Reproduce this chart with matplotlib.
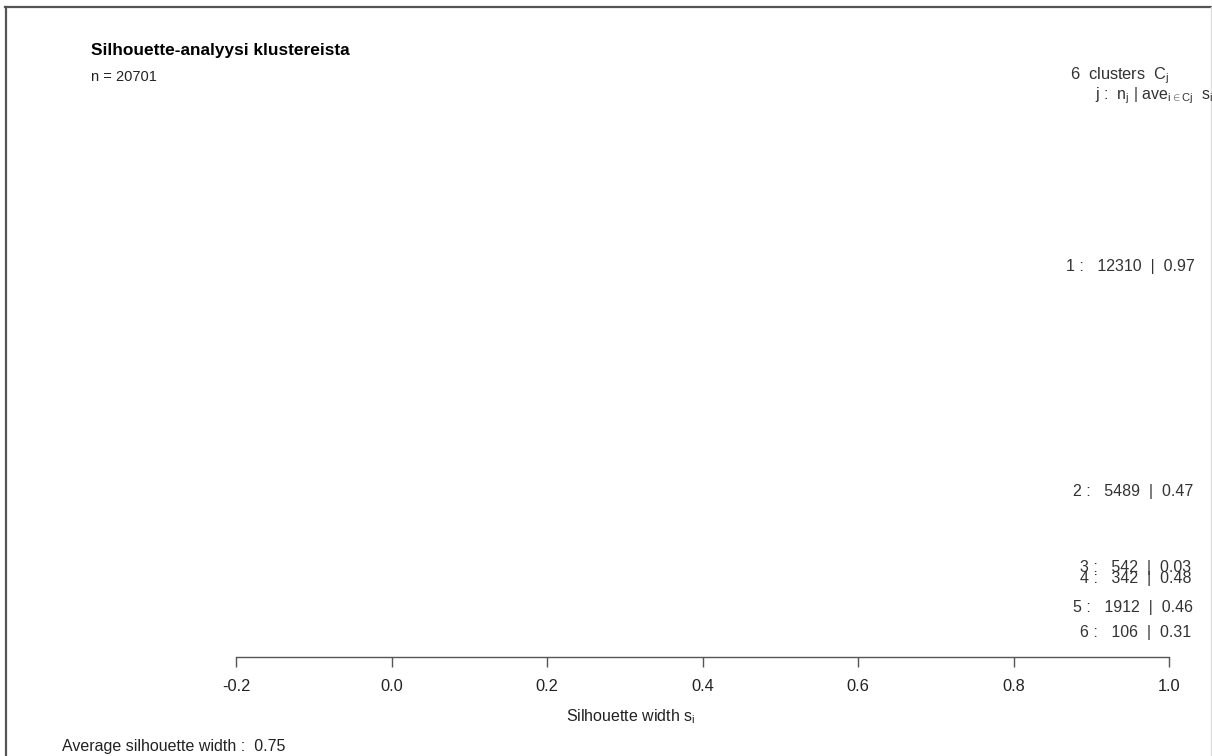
import matplotlib
matplotlib.use('Agg')
import matplotlib.pyplot as plt
from matplotlib.transforms import ScaledTranslation
from matplotlib.lines import Line2D

# ---- data ----
clusters = [1, 2, 3, 4, 5, 6]
sizes = [12310, 5489, 542, 342, 1912, 106]
avg_widths = [0.97, 0.47, 0.03, 0.48, 0.46, 0.31]
n_total = 20701
overall_avg = 0.75
x_ticks = [-0.2, 0.0, 0.2, 0.4, 0.6, 0.8, 1.0]
title = "Silhouette-analyysi klustereista"

plt.rcParams['font.family'] = ['Liberation Sans', 'DejaVu Sans']
plt.rcParams['mathtext.fontset'] = 'custom'
plt.rcParams['mathtext.rm'] = 'Liberation Sans'
plt.rcParams['mathtext.it'] = 'Liberation Sans'
plt.rcParams['mathtext.bf'] = 'Liberation Sans:bold'

W, H, DPI = 1212, 756, 100
fig = plt.figure(figsize=(W / DPI, H / DPI), dpi=DPI)
fig.patch.set_facecolor('white')

def fx(px):
    return px / W

def fy(py):
    return 1 - py / H

ax = fig.add_axes([fx(236), fy(634.2), fx(1169) - fx(236), fy(111.5) - fy(634.2)])
ax.set_xlim(-0.2, 1.0)
ax.set_ylim(n_total, 0)
ax.patch.set_alpha(0)

# cluster bars (rendered white as in the reference, where they are not visible)
starts = []
acc = 0
for s in sizes:
    starts.append(acc)
    acc += s
centers = [st + s / 2 for st, s in zip(starts, sizes)]
ax.barh(centers, avg_widths, height=sizes, color='white', linewidth=0)

for sp in ['top', 'right', 'left']:
    ax.spines[sp].set_visible(False)
ax.spines['bottom'].set_position(('outward', 16.4))
ax.spines['bottom'].set_bounds(-0.2, 1.0)
ax.spines['bottom'].set_color('#555555')
ax.spines['bottom'].set_linewidth(1.0)
ax.set_yticks([])
ax.set_xticks(x_ticks)
ax.set_xticklabels([f"{t:.1f}" for t in x_ticks])
ax.tick_params(axis='x', direction='out', length=7.2, width=1.0, color='#555555',
               labelsize=11.8, labelcolor='#222222', pad=9)

# cluster labels: at x = 1, adj = 0.8
lab_texts = []
for j, n, a, yc in zip(clusters, sizes, avg_widths, centers):
    s = " ".join([str(j), ":  ", str(n), " | ", f"{a:.2f}"])
    t = ax.text(1.0, yc, s, ha='left', va='center', fontsize=11.5, color='#333333',
                clip_on=False)
    lab_texts.append(t)

# titles & annotations
fig.text(fx(91), fy(50), title, fontsize=12.4, fontweight='bold', ha='left', va='center',
         color='black')
fig.text(fx(91), fy(77), f"n = {n_total}", fontsize=10.5, ha='left', va='center',
         color='#222222')
fig.text(fx(1070), fy(76), r"%d  clusters  C$_\mathregular{j}$" % len(clusters),
         fontsize=11.8, ha='left', va='center', color='#333333')
fig.text(fx(1213), fy(96), r"j :  n$_\mathregular{j}$ | ave$_{\mathregular{i}\in \mathregular{Cj}}$  s$_\mathregular{i}$",
         fontsize=11.5, ha='right', va='center', color='#333333')
fig.text(fx(631), fy(717), r"Silhouette width s$_\mathregular{i}$", fontsize=11.5,
         ha='center', va='center', color='#222222')
fig.text(fx(62), fy(747), f"Average silhouette width :  {overall_avg:.2f}", fontsize=11.5,
         ha='left', va='center', color='#222222')

# frame
fig.add_artist(Line2D([fx(5), 1], [fy(6.5), fy(6.5)], transform=fig.transFigure,
                      color='#555555', lw=1.6))
fig.add_artist(Line2D([fx(5.5), fx(5.5)], [0, fy(6.5)], transform=fig.transFigure,
                      color='#555555', lw=1.6))
fig.add_artist(Line2D([fx(1210.5), fx(1210.5)], [0, fy(6.5)], transform=fig.transFigure,
                      color='#dddddd', lw=1.0))

# shift labels by -0.8 * width (R's adj = 0.8)
fig.canvas.draw()
r = fig.canvas.get_renderer()
for t in lab_texts:
    w = t.get_window_extent(r).width
    t.set_transform(ax.transData + ScaledTranslation(-0.8 * w / DPI, 0, fig.dpi_scale_trans))

fig.savefig('out.png', dpi=DPI)
